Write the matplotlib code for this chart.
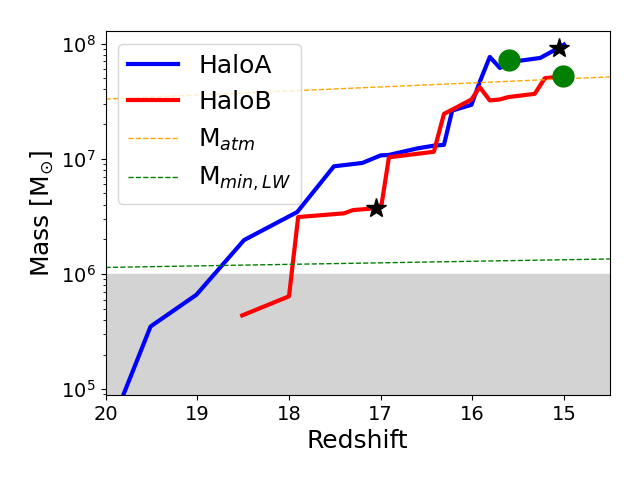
import matplotlib
matplotlib.use("Agg")
import matplotlib.pyplot as plt

# HaloA merger history (redshift, mass in Msun)
z_a = [20.0, 19.51, 19.01, 18.49, 17.91, 17.51, 17.20, 17.0, 16.91, 16.60, 16.42,
       16.31, 16.22, 16.01, 15.92, 15.81, 15.70, 15.60, 15.48, 15.26, 15.06, 15.0]
m_a = [3.66e4, 3.5e5, 6.6e5, 1.97e6, 3.45e6, 8.6e6, 9.2e6, 1.07e7, 1.08e7, 1.23e7, 1.30e7,
       1.32e7, 2.62e7, 2.94e7, 4.64e7, 7.66e7, 6.14e7, 6.8e7, 7.1e7, 7.5e7, 9.17e7, 9.8e7]

# HaloB
z_b = [18.51, 18.00, 17.90, 17.40, 17.30, 17.05, 16.99, 16.91, 16.42, 16.31,
       16.01, 15.92, 15.81, 15.70, 15.61, 15.32, 15.21, 15.01]
m_b = [4.37e5, 6.4e5, 3.12e6, 3.36e6, 3.59e6, 3.72e6, 4.03e6, 1.03e7, 1.15e7, 2.45e7,
       3.27e7, 4.19e7, 3.21e7, 3.27e7, 3.43e7, 3.66e7, 5.0e7, 5.2e7]

# special events
star_z = [15.06, 17.05]
star_m = [9.17e7, 3.72e6]
circ_z = [15.60, 15.01]
circ_m = [7.25e7, 5.2e7]

# threshold masses
z_lim = [20.0, 14.5]
m_atm = [3.3e7, 5.14e7]
m_lw = [1.14e6, 1.35e6]

fig, ax = plt.subplots(figsize=(6.4, 4.8), dpi=100)
fig.subplots_adjust(left=0.165, right=0.953, top=0.935, bottom=0.177)

ax.axhspan(1e4, 1e6, color="lightgray", zorder=0)
ax.plot(z_a, m_a, color="blue", lw=3, label="HaloA")
ax.plot(z_b, m_b, color="red", lw=3, label="HaloB")
ax.plot(z_lim, m_atm, color="orange", ls="--", lw=1, label=r"M$_{atm}$")
ax.plot(z_lim, m_lw, color="green", ls="--", lw=1, label=r"M$_{min,LW}$")
ax.plot(circ_z, circ_m, "o", color="green", ms=15, ls="none")
ax.plot(star_z, star_m, "*", color="black", ms=15, ls="none")

ax.set_yscale("log")
ax.set_xlim(20, 14.5)
ax.set_ylim(8.9e4, 1.28e8)
ax.set_xlabel("Redshift", fontsize=18)
ax.set_ylabel(r"Mass [M$_{\odot}$]", fontsize=18)
ax.tick_params(labelsize=14)
ax.legend(loc="upper left", fontsize=18)

plt.savefig("out.png", dpi=100)
plt.close(fig)
